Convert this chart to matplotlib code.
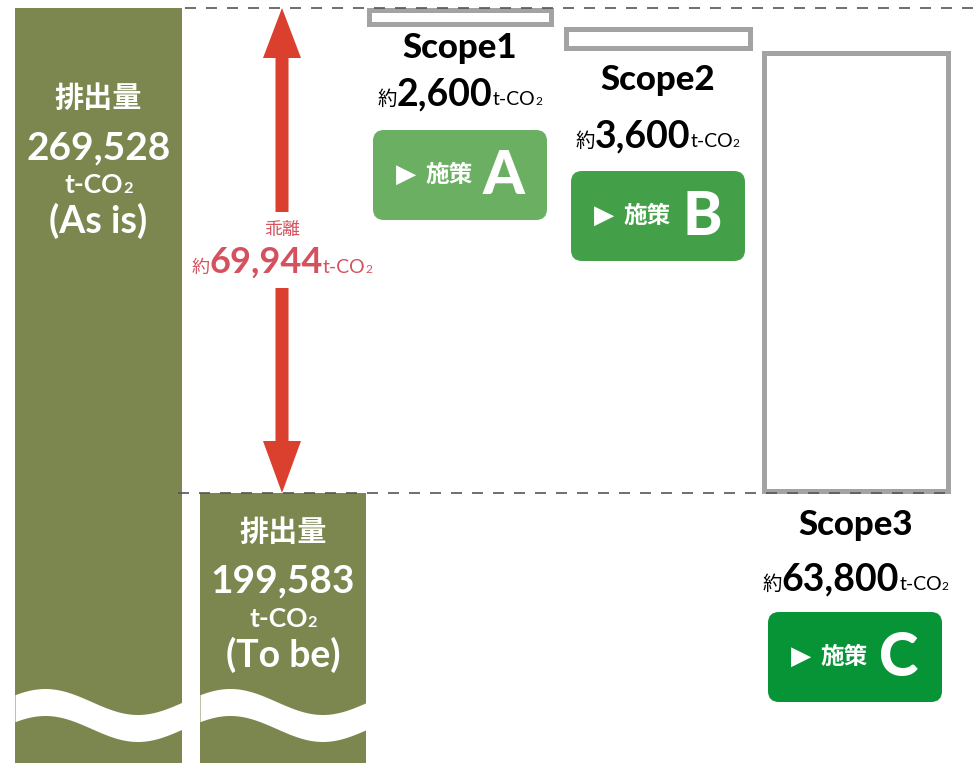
import matplotlib
matplotlib.use('Agg')
import matplotlib.pyplot as plt
from matplotlib.patches import Rectangle, FancyBboxPatch
import numpy as np

# values (t-CO2)
as_is = 269528
to_be = 199583
gap = 69944
scopes = ['Scope1', 'Scope2', 'Scope3']
scope_vals = [2600, 3600, 63800]
measures = ['A', 'B', 'C']

LAT = ['Lato', 'Noto Sans CJK JP', 'DejaVu Sans']
JP = ['Noto Sans CJK JP', 'DejaVu Sans']
olive = '#7b874e'
gray = '#a3a3a3'
btn_colors = ['#6bb062', '#43a048', '#079437']
red = '#db3f2e'
pink = '#d4525d'

W, H = 973, 763
fig = plt.figure(figsize=(W / 100, H / 100), dpi=100)

# main axes: x in pixels, y in t-CO2 (scale fixed by the two totals)
k = (493 - 8) / (as_is - to_be)          # px per t-CO2
ytop = as_is + 8 / k
ybot = ytop - H / k
def val(p):
    return ytop - p / k

ax = fig.add_axes([0, 0, 1, 1])
ax.set_xlim(0, W)
ax.set_ylim(ybot, ytop)
ax.axis('off')

# overlay axes for text / decorations in pixel coords
ov = fig.add_axes([0, 0, 1, 1], facecolor='none')
ov.set_xlim(0, W)
ov.set_ylim(H, 0)
ov.axis('off')

# total bars
ax.bar(98.5, as_is - ybot, bottom=ybot, width=167, color=olive, lw=0)
ax.bar(283, to_be - ybot, bottom=ybot, width=166, color=olive, lw=0)

# wavy break band on both bars
for x0, w in [(15, 167), (200, 166)]:
    dx = np.linspace(0, w, 200)
    c = 715 - 13 * np.cos(2 * np.pi * (dx - 30) / 185)
    ov.fill_between(x0 + dx, c - 13.5, c + 13.5, color='white', lw=0, zorder=2)

# scope boxes stacked down from as_is
lw_px = 5
boxes_x = [(366, 553), (563, 752), (761, 950)]
top = as_is
for (x0, x1), v in zip(boxes_x, scope_vals):
    hp = lw_px / 2
    r = Rectangle((x0 + hp, top - v + hp / k), (x1 - x0) - lw_px, v - lw_px / k,
                  fill=False, edgecolor=gray, lw=lw_px * 0.72, zorder=3)
    ax.add_patch(r)
    top -= v

# dashed reference lines
ax.hlines(as_is, 185, W, colors='#555555', lw=1.2, ls=(0, (6.6, 6)), zorder=5)
ax.hlines(to_be, 178, 950, colors='#555555', lw=1.2, ls=(0, (6.6, 6)), zorder=5)

# gap arrow
xc, hw, sw = 282, 19, 6.5
ax.fill([xc, xc + hw, xc + sw, xc + sw, xc - sw, xc - sw, xc - hw],
        [as_is, as_is - 50 / k, as_is - 50 / k, val(212), val(212), as_is - 50 / k, as_is - 50 / k],
        color=red, lw=0, zorder=4)
ax.fill([xc, xc + hw, xc + sw, xc + sw, xc - sw, xc - sw, xc - hw],
        [to_be, to_be + 52 / k, to_be + 52 / k, val(288), val(288), to_be + 52 / k, to_be + 52 / k],
        color=red, lw=0, zorder=4)


def inline(xc, yb, pieces, color):
    rend = fig.canvas.get_renderer()
    ts, ws = [], []
    for s, size, weight, fam in pieces:
        t = ov.text(0, yb, s, fontsize=size, fontweight=weight, family=fam,
                    color=color, ha='left', va='baseline', zorder=6)
        ws.append(t.get_window_extent(rend).width)
        ts.append(t)
    x = xc - sum(ws) / 2
    for t, w in zip(ts, ws):
        t.set_x(x)
        x += w


def co2(size, weight='normal'):
    return [('t-CO', size, weight, LAT), ('2', size * 0.62, weight, LAT)]


# text inside the total bars
for cx, ys, num, tag in [(98.5, (98, 159, 193, 233), as_is, 'As is'),
                         (283, (532, 592, 627, 667), to_be, 'To be')]:
    ov.text(cx, ys[0], '排出量', fontsize=21, fontweight='bold', family=JP,
            color='white', ha='center', va='center', zorder=6)
    ov.text(cx, ys[1], f'{num:,}', fontsize=28, fontweight='bold', family=LAT,
            color='white', ha='center', va='baseline', zorder=6)
    inline(cx, ys[2], co2(19, 'bold'), 'white')
    ov.text(cx, ys[3], f'({tag})', fontsize=27, fontweight='bold', family=LAT,
            color='white', ha='center', va='baseline', zorder=6)

# gap label
ov.text(xc, 230, '乖離', fontsize=13, family=JP, color=pink, ha='center', va='center')
inline(xc, 273, [('約', 13, 'normal', JP), (f'{gap:,}', 26, 'bold', LAT)] + co2(14), pink)

# scope labels and measure buttons
name_y = [58, 90, 535]
val_y = [105, 147, 590]
btn_xy = [(373, 130), (571, 171), (768, 612)]
for i, (name, v, m) in enumerate(zip(scopes, scope_vals, measures)):
    cx = sum(boxes_x[i]) / 2
    ov.text(cx, name_y[i], name, fontsize=25, fontweight='black', family=LAT,
            color='black', ha='center', va='baseline')
    inline(cx, val_y[i], [('約', 14, 'normal', JP), (f'{v:,}', 27, 'bold', LAT)] + co2(14), 'black')
    bx, by = btn_xy[i]
    ov.add_patch(FancyBboxPatch((bx, by), 174, 90, boxstyle='round,pad=0,rounding_size=11',
                                facecolor=btn_colors[i], edgecolor='none', zorder=5))
    cy = by + 45
    ov.text(bx + 33, cy, '▶', fontsize=19, family=['DejaVu Sans'], color='white',
            ha='center', va='center', zorder=6)
    ov.text(bx + 76, cy, '施策', fontsize=17, fontweight='bold', family=JP, color='white',
            ha='center', va='center', zorder=6)
    ov.text(bx + 131, cy + 1, m, fontsize=43, fontweight='black', family=LAT, color='white',
            ha='center', va='center', zorder=6)

fig.savefig('out.png', dpi=100)
